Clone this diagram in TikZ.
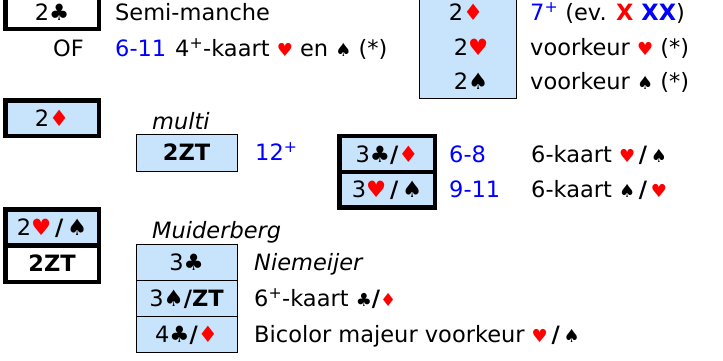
\documentclass[tikz,border=0pt]{standalone}
\usepackage{fontspec}
\setmainfont{DejaVu Sans}
\usetikzlibrary{positioning}

\definecolor{celblauw}{RGB}{200,228,252}
\definecolor{rood}{RGB}{255,0,0}
\definecolor{blauw}{RGB}{0,0,255}

% kleuren in de vakjes
\newcommand{\klaver}{♣}
\newcommand{\ruiten}{\textcolor{rood}{♦}}
\newcommand{\harten}{\textcolor{rood}{♥}}
\newcommand{\schoppen}{♠}
% kleinere kleuren in de tekst
\newcommand{\kk}{{\fontsize{18}{20}\selectfont ♣}}
\newcommand{\rk}{{\fontsize{18}{20}\selectfont\textcolor{rood}{♦}}}
\newcommand{\hk}{{\fontsize{18}{20}\selectfont\textcolor{rood}{♥}}}
\newcommand{\sk}{{\fontsize{18}{20}\selectfont ♠}}
\newcommand{\streep}{\textbf{/}}

\begin{document}
\begin{tikzpicture}[x=1pt, y=-1pt, font=\fontsize{22.5}{26}\selectfont,
		dikvak/.style={draw, line width=4.5pt, outer sep=0pt, minimum width=93.5pt, minimum height=35.75pt, inner sep=0pt, text height=16pt, text depth=0pt},
		dunvak/.style={draw, line width=0.9pt, outer sep=0pt, fill=celblauw, minimum width=101pt, minimum height=36pt, inner sep=0pt, text height=16pt, text depth=0pt},
		tekst/.style={anchor=west, inner sep=0pt, text height=16pt, text depth=0pt},
		bod/.style={inner sep=0pt, text height=16pt, text depth=0pt},
		punten/.style={tekst, text=blauw}]
	\useasboundingbox (0,0) rectangle (723,360);

	% 2 klaveren
	\node[dikvak, minimum height=33.5pt] (tweeklaver) at (52,12) {2\klaver};
	\node[tekst] (semi) at (115,12) {Semi-manche};
	\node[tekst, anchor=east] (of) at (84,48) {OF};
	\node[punten] (of-punten) at (115,48) {6-11};
	\node[tekst] (of-tekst) at (175,48) {4\textsuperscript{+}-kaart \hk{} en \sk{} (*)};

	% antwoorden op 2 klaveren
	\node[dunvak, minimum width=97pt, minimum height=103.5pt] (antwoorden) at (467.5,47) {};
	\node[bod] (a-ruiten) at (466,12.5) {2\ruiten};
	\node[bod] (a-harten) at (471,47) {2\harten};
	\node[bod] (a-schoppen) at (471,81.5) {2\schoppen};
	\node[tekst] (t-ruiten) at (530,12.5) {\textcolor{blauw}{7\textsuperscript{+}} (ev. \textbf{\textcolor{rood}{X} \textcolor{blauw}{XX}})};
	\node[tekst] (t-harten) at (530,47) {voorkeur \hk{} (*)};
	\node[tekst] (t-schoppen) at (530,81.5) {voorkeur \sk{} (*)};

	% 2 ruiten
	\node[dikvak, fill=celblauw, minimum height=35.5pt] (tweeruiten) at (52,118) {2\ruiten};
	\node[tekst] (multi) at (152,121) {\textit{multi}};
	\node[dunvak, minimum height=37pt] (multi-zt) at (186.5,152.5) {\textbf{2ZT}};
	\node[punten] (multi-punten) at (255,152.5) {12\textsuperscript{+}};
	\node[dikvak, fill=celblauw, minimum width=95.5pt] (kl-ru) at (387,154.1) {3\klaver\streep\ruiten};
	\node[dikvak, fill=celblauw, minimum width=95.5pt, below=0pt of kl-ru] (ha-sc) {3\harten\,\streep\,\schoppen};
	\node[punten] (kl-ru-punten) at (449,154.1) {6-8};
	\node[punten] (ha-sc-punten) at (449,189.9) {9-11};
	\node[tekst] (kl-ru-tekst) at (531,154.1) {6-kaart \hk\,\streep\,\sk};
	\node[tekst] (ha-sc-tekst) at (531,189.9) {6-kaart \sk\,\streep\,\hk};

	% 2 harten/schoppen en 2ZT
	\node[dikvak, fill=celblauw, minimum height=36.25pt] (tweehasc) at (52,227.4) {2\harten\,\streep\,\schoppen};
	\node[dikvak, fill=white, minimum height=36.25pt, below=0pt of tweehasc] (tweezt) {\textbf{2ZT}};
	\node[tekst] (muiderberg) at (152,230) {\textit{Muiderberg}};
	\node[dunvak] (drieklaver) at (186.5,262) {3\klaver};
	\node[dunvak, below=0pt of drieklaver] (drieschzt) {3\schoppen\streep\textbf{ZT}};
	\node[dunvak, below=0pt of drieschzt] (vierklru) {4\klaver\streep\ruiten};
	\node[tekst] (niemeijer) at (254,262) {\textit{Niemeijer}};
	\node[tekst] (zeskaart) at (254,298) {6\textsuperscript{+}-kaart \kk\streep\rk};
	\node[tekst] (bicolor) at (254,334) {Bicolor majeur voorkeur \hk\,\streep\,\sk};
\end{tikzpicture}
\end{document}
